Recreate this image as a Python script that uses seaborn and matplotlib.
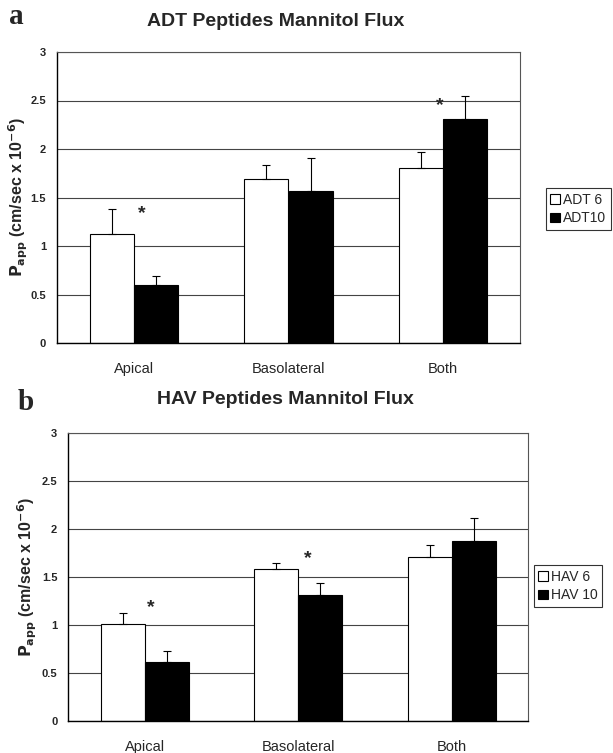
import matplotlib
matplotlib.use("Agg")
import matplotlib.pyplot as plt
import seaborn as sns
import pandas as pd

sites = ["Apical", "Basolateral", "Both"]

adt_groups = ["ADT 6", "ADT10"]
adt6_vals = [1.12, 1.69, 1.80]
adt6_err = [0.26, 0.15, 0.17]
adt10_vals = [0.60, 1.57, 2.31]
adt10_err = [0.09, 0.34, 0.24]

hav_groups = ["HAV 6", "HAV 10"]
hav6_vals = [1.01, 1.58, 1.71]
hav6_err = [0.11, 0.07, 0.12]
hav10_vals = [0.61, 1.31, 1.88]
hav10_err = [0.12, 0.13, 0.23]

yticks = [0, 0.5, 1, 1.5, 2, 2.5, 3]
ytick_labels = ["0", "0.5", "1", "1.5", "2", "2.5", "3"]

sns.set_theme(style="white")
plt.rcParams["font.family"] = ["Liberation Sans", "DejaVu Sans"]

W, H = 613, 753
fig = plt.figure(figsize=(W / 100, H / 100), dpi=100)


def panel(rect, groups, v1, e1, v2, e2, title, title_pos, letter, stars,
          legend_anchor, ylabel_x):
    ax = fig.add_axes(rect)
    df = pd.DataFrame({
        "site": sites * 2,
        "group": [groups[0]] * 3 + [groups[1]] * 3,
        "value": v1 + v2,
    })
    sns.barplot(data=df, x="site", y="value", hue="group", order=sites,
                hue_order=groups, palette=["white", "black"],
                edgecolor="black", linewidth=0.8, width=0.574,
                errorbar=None, ax=ax)
    for cont, errs in zip(ax.containers, [e1, e2]):
        for bar, er in zip(cont, errs):
            xc = bar.get_x() + bar.get_width() / 2
            ax.errorbar(xc, bar.get_height(), yerr=[[0], [er]], fmt="none",
                        ecolor="black", elinewidth=0.8, capsize=3,
                        capthick=0.8, zorder=1.5)
    ax.set_ylim(0, 3)
    ax.set_xlim(-0.5, 2.5)
    ax.set_yticks(yticks)
    ax.set_yticklabels(ytick_labels, fontsize=8, fontweight="bold")
    ax.tick_params(axis="y", length=0, pad=8)
    ax.tick_params(axis="x", length=0, pad=14, labelsize=10.5)
    ax.set_xlabel("")
    ax.set_ylabel(r"$\mathbf{P_{app}}$ (cm/sec x 10$^{\mathbf{-6}}$)",
                  fontsize=11.5, fontweight="bold")
    ax.yaxis.label.set_verticalalignment("center")
    ax.yaxis.set_label_coords(ylabel_x, 0.5)
    ax.yaxis.grid(True, color="#444444", linewidth=0.8)
    ax.set_axisbelow(True)
    for s in ax.spines.values():
        s.set_visible(True)
        s.set_color("black")
        s.set_linewidth(0.8)
    ax.spines["left"].set_linewidth(1.0)
    ax.spines["bottom"].set_linewidth(1.0)
    ax.spines["top"].set_color("#555555")
    ax.spines["right"].set_color("#555555")
    fig.text(title_pos[0] / W, 1 - title_pos[1] / H, title, fontsize=14,
             fontweight="bold", ha="center", va="center")
    for (sx, sy) in stars:
        ax.text(sx, sy, "*", ha="center", va="center", fontsize=14,
                fontweight="bold")
    handles, labels = ax.get_legend_handles_labels()
    ax.get_legend().remove()
    leg = fig.legend(handles, labels, loc="center left",
                     bbox_to_anchor=legend_anchor, fontsize=10,
                     frameon=True, fancybox=False, edgecolor="black",
                     handlelength=0.7, handleheight=0.7,
                     handletextpad=0.25, borderpad=0.3, labelspacing=0.35,
                     borderaxespad=0)
    leg.get_frame().set_linewidth(0.8)
    fig.text(letter[1] / W, 1 - letter[2] / H, letter[0], fontsize=21,
             fontweight="bold", family=["Liberation Serif", "DejaVu Serif"],
             ha="left", va="center")
    return ax


panel([57 / W, 1 - 343 / H, 463 / W, 291 / H], adt_groups, adt6_vals,
      adt6_err, adt10_vals, adt10_err, "ADT Peptides Mannitol Flux",
      (276, 21), ("a", 9, 16), [(0.05, 1.33), (1.98, 2.45)],
      (546 / W, 1 - 209 / H), (18 - 57) / 463)

panel([68.4 / W, 1 - 721 / H, 460 / W, 288 / H], hav_groups, hav6_vals,
      hav6_err, hav10_vals, hav10_err, "HAV Peptides Mannitol Flux",
      (285, 399), ("b", 18, 402), [(0.04, 1.18), (1.06, 1.69)],
      (534 / W, 1 - 586 / H), (27 - 68.4) / 460)

fig.savefig("out.png", dpi=100)
